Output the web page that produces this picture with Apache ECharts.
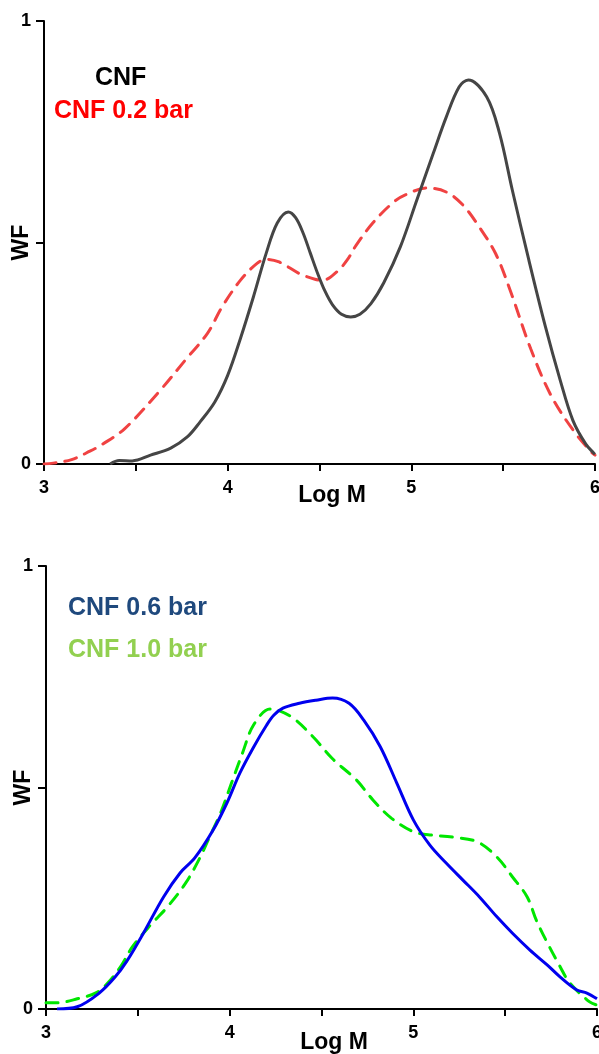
<!DOCTYPE html>
<html>
<head>
<meta charset="utf-8">
<script src="https://cdn.jsdelivr.net/npm/echarts@6/dist/echarts.min.js"></script>
<style>
html,body{margin:0;padding:0;background:#fff;}
#chart{width:599px;height:1054px;}
</style>
</head>
<body>
<div id="chart"></div>
<script>
// Top panel: CNF (solid) and CNF 0.2 bar (dashed)
const cnfX = [3.36, 3.41, 3.48, 3.58, 3.69, 3.78, 3.85, 3.93, 4.00, 4.07, 4.14, 4.21, 4.27, 4.33, 4.37, 4.41, 4.45, 4.49, 4.53, 4.57, 4.62, 4.67, 4.72, 4.78, 4.85, 4.94, 5.03, 5.12, 5.19, 5.26, 5.31, 5.41, 5.48, 5.55, 5.64, 5.73, 5.81, 5.88, 5.95, 6.0];
const cnfY = [0, 0.008, 0.007, 0.02, 0.036, 0.061, 0.095, 0.14, 0.20, 0.284, 0.377, 0.476, 0.544, 0.569, 0.556, 0.522, 0.476, 0.43, 0.39, 0.36, 0.338, 0.332, 0.338, 0.362, 0.409, 0.49, 0.596, 0.702, 0.783, 0.851, 0.867, 0.829, 0.747, 0.618, 0.46, 0.31, 0.19, 0.098, 0.045, 0.022];

const cnf02X = [3.0, 3.05, 3.15, 3.25, 3.32, 3.44, 3.63, 3.77, 3.89, 3.97, 4.07, 4.16, 4.21, 4.28, 4.39, 4.475, 4.52, 4.595, 4.65, 4.70, 4.79, 4.90, 4.97, 5.085, 5.19, 5.28, 5.37, 5.46, 5.54, 5.65, 5.76, 5.88, 5.98, 6.0];
const cnf02Y = [0, 0.002, 0.01, 0.029, 0.045, 0.08, 0.165, 0.235, 0.295, 0.355, 0.415, 0.453, 0.462, 0.456, 0.43, 0.417, 0.415, 0.434, 0.46, 0.494, 0.544, 0.59, 0.608, 0.623, 0.614, 0.585, 0.535, 0.474, 0.39, 0.26, 0.155, 0.077, 0.027, 0.02];

// Bottom panel: CNF 0.6 bar (solid) and CNF 1.0 bar (dashed)
const cnf06X = [3.06, 3.17, 3.29, 3.376, 3.44, 3.53, 3.64, 3.73, 3.81, 3.91, 3.985, 4.056, 4.13, 4.20, 4.24, 4.29, 4.38, 4.47, 4.56, 4.65, 4.73, 4.82, 4.91, 5.00, 5.09, 5.18, 5.27, 5.36, 5.455, 5.54, 5.635, 5.73, 5.80, 5.89, 5.945, 6.0];
const cnf06Y = [0, 0.005, 0.036, 0.072, 0.108, 0.171, 0.253, 0.307, 0.341, 0.404, 0.465, 0.533, 0.591, 0.640, 0.663, 0.679, 0.690, 0.697, 0.702, 0.690, 0.652, 0.592, 0.510, 0.427, 0.370, 0.329, 0.291, 0.253, 0.208, 0.171, 0.133, 0.099, 0.072, 0.043, 0.036, 0.023];

const cnf10X = [3.0, 3.06, 3.17, 3.28, 3.35, 3.41, 3.47, 3.57, 3.66, 3.76, 3.84, 3.89, 3.95, 4.01, 4.07, 4.13, 4.22, 4.26, 4.345, 4.455, 4.56, 4.69, 4.78, 4.88, 5.00, 5.09, 5.215, 5.35, 5.455, 5.54, 5.62, 5.67, 5.73, 5.80, 5.85, 5.96, 6.0];
const cnf10Y = [0.014, 0.014, 0.023, 0.038, 0.065, 0.098, 0.14, 0.19, 0.23, 0.284, 0.343, 0.388, 0.442, 0.51, 0.578, 0.641, 0.677, 0.675, 0.657, 0.614, 0.565, 0.517, 0.472, 0.431, 0.40, 0.393, 0.388, 0.377, 0.343, 0.298, 0.253, 0.20, 0.149, 0.095, 0.06, 0.016, 0.009];

const xTickLabels = ['3', '4', '5', '6'];
const yTickLabels = ['0', '1'];
const xName = 'Log M';
const yName = 'WF';
const legendTop = ['CNF', 'CNF 0.2 bar'];
const legendBottom = ['CNF 0.6 bar', 'CNF 1.0 bar'];

function pairs(xs, ys) { return xs.map((x, i) => [x, ys[i]]); }

const FONT = "'Liberation Sans', Arial, sans-serif";

function xAxisCfg(gridIndex, gap) {
  return {
    gridIndex, type: 'value', min: 3, max: 6, interval: 0.5,
    name: xName, nameLocation: 'middle', nameGap: gap, nameMoveOverlap: false,
    nameTextStyle: { fontFamily: FONT, fontWeight: 'bold', fontSize: 23, color: '#000', padding: [0, 0, 0, 25], verticalAlign: 'top' },
    axisLine: { show: true, onZero: false, lineStyle: { color: '#000', width: 2 } },
    axisTick: { show: true, length: 7, lineStyle: { color: '#000', width: 2 } },
    axisLabel: {
      margin: 15, fontFamily: FONT, fontWeight: 'bold', fontSize: 18, color: '#000',
      showMaxLabel: true, showMinLabel: true, hideOverlap: false,
      formatter: v => { const s = String(Math.round(v)); return (Math.abs(v - Math.round(v)) < 1e-6 && xTickLabels.includes(s)) ? s : ''; }
    },
    splitLine: { show: false }
  };
}
function yAxisCfg(gridIndex) {
  return {
    gridIndex, type: 'value', min: 0, max: 1, interval: 0.5,
    name: yName, nameLocation: 'middle', nameGap: 11, nameMoveOverlap: false,
    nameTextStyle: { fontFamily: FONT, fontWeight: 'bold', fontSize: 23, color: '#000' },
    axisLine: { show: true, onZero: false, lineStyle: { color: '#000', width: 2 } },
    axisTick: { show: true, length: 8, lineStyle: { color: '#000', width: 2 } },
    axisLabel: {
      margin: 13, fontFamily: FONT, fontWeight: 'bold', fontSize: 18, color: '#000',
      formatter: v => { const s = String(Math.round(v)); return (Math.abs(v - Math.round(v)) < 1e-6 && yTickLabels.includes(s)) ? s : ''; }
    },
    splitLine: { show: false }
  };
}

const chart = echarts.init(document.getElementById('chart'), null, { renderer: 'canvas' });
chart.setOption({
  animation: false,
  backgroundColor: '#fff',
  grid: [
    { left: 44, top: 21, width: 551, height: 443, containLabel: false, outerBoundsMode: 'none' },
    { left: 46, top: 566, width: 551, height: 443, containLabel: false, outerBoundsMode: 'none' }
  ],
  xAxis: [xAxisCfg(0, 20), xAxisCfg(1, 22)],
  yAxis: [yAxisCfg(0), yAxisCfg(1)],
  series: [
    { name: legendTop[1], type: 'line', xAxisIndex: 0, yAxisIndex: 0, data: pairs(cnf02X, cnf02Y), smooth: 0.35, showSymbol: false,
      lineStyle: { color: '#f04242', width: 3, type: [12, 9], cap: 'round' } },
    { name: legendTop[0], type: 'line', xAxisIndex: 0, yAxisIndex: 0, data: pairs(cnfX, cnfY), smooth: 0.35, showSymbol: false,
      lineStyle: { color: '#454545', width: 3 } },
    { name: legendBottom[1], type: 'line', xAxisIndex: 1, yAxisIndex: 1, data: pairs(cnf10X, cnf10Y), smooth: 0.35, showSymbol: false,
      lineStyle: { color: '#00e600', width: 3, type: [12, 9], cap: 'round' } },
    { name: legendBottom[0], type: 'line', xAxisIndex: 1, yAxisIndex: 1, data: pairs(cnf06X, cnf06Y), smooth: 0.35, showSymbol: false,
      lineStyle: { color: '#0000ee', width: 3 } }
  ],
  graphic: [
    { type: 'text', left: 95, top: 66, style: { text: legendTop[0], font: "bold 25px 'Liberation Sans', Arial, sans-serif", fill: '#000' } },
    { type: 'text', left: 54, top: 99, style: { text: legendTop[1], font: "bold 25px 'Liberation Sans', Arial, sans-serif", fill: '#ff0000' } },
    { type: 'text', left: 68, top: 596, style: { text: legendBottom[0], font: "bold 25px 'Liberation Sans', Arial, sans-serif", fill: '#1f497d' } },
    { type: 'text', left: 68, top: 638, style: { text: legendBottom[1], font: "bold 25px 'Liberation Sans', Arial, sans-serif", fill: '#92d050' } }
  ]
});
</script>
</body>
</html>
